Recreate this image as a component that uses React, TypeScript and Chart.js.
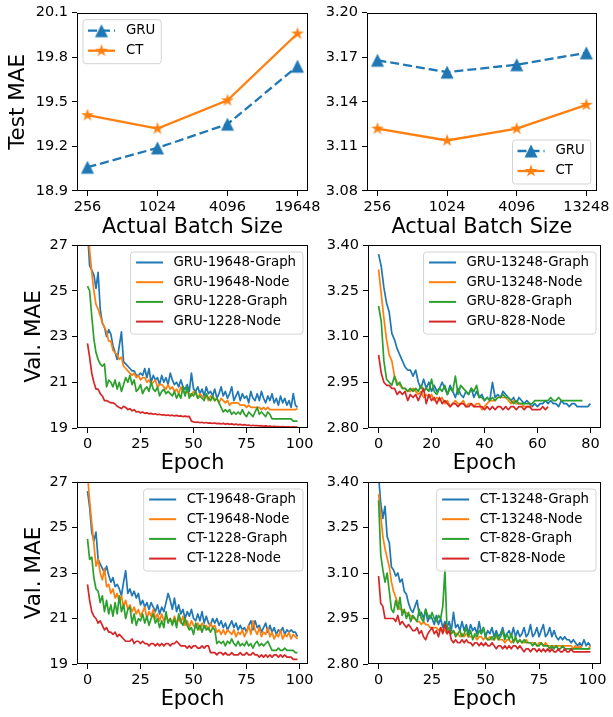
import React, { useEffect, useRef } from 'react';
import { Chart, registerables } from 'chart.js';
Chart.register(...registerables);

const W = 613;
const H = 717;
const FONT = '"DejaVu Sans", "Liberation Sans", sans-serif';
const BLUE = '#1f77b4';
const ORANGE = '#ff7f0e';
const GREEN = '#2ca02c';
const RED = '#d62728';

// ---------- top row: test MAE vs batch size ----------
const BATCH_LABELS_LEFT = ['256', '1024', '4096', '19648'];
const BATCH_LABELS_RIGHT = ['256', '1024', '4096', '13248'];
const GRU_TEST_LEFT = [19.06, 19.19, 19.35, 19.74];
const CT_TEST_LEFT = [19.41, 19.32, 19.51, 19.96];
const GRU_TEST_RIGHT = [3.168, 3.160, 3.165, 3.173];
const CT_TEST_RIGHT = [3.122, 3.114, 3.122, 3.138];
const Y_TICKS_TOP_LEFT = [18.9, 19.2, 19.5, 19.8, 20.1];
const Y_TICKS_TOP_RIGHT = [3.08, 3.11, 3.14, 3.17, 3.2];

// ---------- middle row: GRU validation curves ----------
const GRU_19648_GRAPH = [
  27.6, 26.1, 25.9, 25.7, 25.1, 25.8, 24.2, 23.6, 23.4, 23.0,
  23.3, 23.1, 22.6, 22.3, 22.0, 22.6, 23.2, 21.9, 21.8, 21.7,
  21.6, 21.5, 21.5, 21.3, 21.3, 21.4, 21.3, 21.6, 21.2, 21.6,
  21.0, 21.3, 21.1, 21.2, 20.9, 21.3, 21.0, 21.2, 20.9, 21.4,
  21.1, 20.9, 21.0, 20.8, 21.1, 20.8, 20.7, 20.9, 20.6, 21.4,
  20.7, 20.6, 20.8, 20.5, 20.7, 20.4, 20.8, 20.5, 20.6, 20.4,
  20.7, 20.3, 20.5, 20.8, 20.4, 20.6, 20.3, 20.5, 20.8, 20.2,
  20.4, 20.6, 20.2, 20.5, 20.3, 20.4, 20.1, 20.6, 20.3, 20.2,
  20.5, 20.2, 20.6, 20.3, 20.1, 20.4, 20.2, 20.5, 20.1, 20.3,
  20.0, 20.4, 20.1, 20.3, 20.0, 20.2, 19.9, 20.5, 20.0, 19.9,
];
const GRU_19648_NODE = [
  27.9, 26.8, 25.8, 25.0, 24.4, 24.2, 23.9, 23.6, 23.4, 23.2,
  22.8, 22.8, 22.4, 22.3, 22.2, 22.0, 22.1, 21.7, 21.6, 21.5,
  21.4, 21.3, 21.4, 21.2, 21.3, 21.1, 21.2, 21.2, 21.0, 21.1,
  20.9, 21.0, 21.1, 20.8, 20.9, 20.9, 20.8, 20.7, 20.9, 20.7,
  20.8, 20.6, 20.7, 20.5, 20.8, 20.6, 20.5, 20.6, 20.5, 20.4,
  20.6, 20.5, 20.3, 20.5, 20.4, 20.3, 20.4, 20.2, 20.4, 20.3,
  20.2, 20.3, 20.1, 20.3, 20.2, 20.1, 20.2, 20.0, 20.1, 20.1,
  20.1, 20.1, 20.0, 20.0, 20.0, 19.9, 20.0, 19.9, 19.9, 19.9,
  19.9, 19.9, 19.8, 19.9, 19.8, 19.9, 19.8, 19.8, 19.8, 19.8,
  19.8, 19.8, 19.8, 19.8, 19.8, 19.8, 19.8, 19.8, 19.8, 19.85,
];
const GRU_1228_GRAPH = [
  25.2, 25.0, 23.9, 22.9, 22.3, 22.0, 21.8, 21.7, 21.8, 20.8,
  21.1, 21.0, 20.8, 21.1, 20.7, 21.0, 20.6, 20.9, 21.2, 21.0,
  21.3, 20.9, 21.1, 20.6, 20.7, 20.9, 20.5, 20.7, 20.8, 20.6,
  21.0, 20.7, 20.6, 20.8, 20.4, 20.6, 20.7, 20.5, 20.6, 20.5,
  20.4, 20.6, 20.3, 20.5, 20.3, 20.8, 20.4, 20.8, 20.3, 20.5,
  20.4, 20.6, 20.3, 20.4, 20.3, 20.2, 20.5, 20.3, 20.2, 20.4,
  20.2, 20.3, 20.1, 19.9, 19.7, 19.8, 19.7, 19.8, 19.6, 19.7,
  19.6, 19.7, 19.6, 19.8, 19.6, 19.5, 19.7, 19.6, 19.5, 19.7,
  19.9, 19.6, 19.7, 19.6, 19.5, 19.7, 19.6, 19.4, 19.4, 19.4,
  19.4, 19.4, 19.4, 19.4, 19.4, 19.4, 19.4, 19.3, 19.3, 19.3,
];
const GRU_1228_NODE = [
  22.7, 22.1, 21.4, 21.0, 20.7, 20.7, 20.5, 20.4, 20.2, 20.2,
  20.15, 20.1, 20.1, 20.05, 19.95, 19.9, 19.85, 19.95, 19.9, 19.8,
  19.85, 19.75, 19.8, 19.7, 19.72, 19.66, 19.7, 19.64, 19.66, 19.62,
  19.64, 19.6, 19.62, 19.58, 19.6, 19.57, 19.58, 19.55, 19.57, 19.54,
  19.56, 19.53, 19.55, 19.52, 19.53, 19.5, 19.52, 19.5, 19.51, 19.3,
  19.27, 19.25, 19.26, 19.23, 19.25, 19.22, 19.24, 19.21, 19.22, 19.2,
  19.22, 19.19, 19.2, 19.18, 19.2, 19.17, 19.19, 19.16, 19.18, 19.15,
  19.17, 19.14, 19.16, 19.13, 19.15, 19.12, 19.13, 19.1, 19.12, 19.1,
  19.11, 19.09, 19.1, 19.08, 19.09, 19.07, 19.08, 19.06, 19.07, 19.06,
  19.06, 19.05, 19.06, 19.05, 19.05, 19.05, 19.04, 19.05, 19.04, 19.05,
];
const GRU_13248_GRAPH = [
  3.37, 3.33, 3.26, 3.21, 3.18, 3.11, 3.09, 3.06, 3.04, 3.02,
  3.00, 2.99, 2.99, 2.97, 2.99, 2.95, 2.93, 2.96, 2.93, 2.95,
  2.92, 2.94, 2.92, 2.93, 2.95, 2.93, 2.91, 2.94, 2.92, 2.90,
  2.93, 2.91, 2.90, 2.92, 2.91, 2.93, 2.90, 2.92, 2.90, 2.91,
  2.89, 2.90, 2.89, 2.95, 2.90, 2.91, 2.90, 2.92, 2.91, 2.90,
  2.89, 2.90, 2.88, 2.90, 2.89, 2.88, 2.89, 2.88, 2.87, 2.88,
  2.87, 2.88, 2.88, 2.89, 2.88, 2.89, 2.88, 2.88, 2.87, 2.89,
  2.88, 2.88, 2.87, 2.88, 2.88, 2.87, 2.87, 2.87, 2.87, 2.87,
  2.88,
];
const GRU_13248_NODE = [
  3.32, 3.24, 3.16, 3.09, 3.04, 3.02, 2.97, 2.95, 2.94, 2.93,
  2.93, 2.92, 2.92, 2.93, 2.92, 2.91, 2.92, 2.90, 2.91, 2.90,
  2.91, 2.89, 2.90, 2.89, 2.90, 2.88, 2.89, 2.87, 2.88, 2.89,
  2.88, 2.88, 2.89, 2.87, 2.88, 2.88, 2.87, 2.88, 2.88, 2.86,
  2.87, 2.88, 2.89, 2.89, 2.89, 2.90, 2.90, 2.90, 2.90, 2.89,
  2.88, 2.89, 2.88, 2.88, 2.88, 2.87, 2.87, 2.87, 2.87,
];
const GRU_828_GRAPH = [
  3.20, 3.15, 3.02, 2.96, 2.95, 2.94, 2.97, 2.94, 2.95, 2.93,
  2.93, 2.92, 2.93, 2.92, 2.93, 2.92, 2.94, 2.92, 2.93, 2.92,
  2.96, 2.92, 2.91, 2.93, 2.92, 2.94, 2.91, 2.93, 2.92, 2.97,
  2.91, 2.94, 2.93, 2.92, 2.91, 2.93, 2.92, 2.94, 2.90, 2.90,
  2.89, 2.90, 2.89, 2.90, 2.89, 2.90, 2.90, 2.91, 2.90, 2.90,
  2.89, 2.88, 2.89, 2.88, 2.88, 2.88, 2.88, 2.88, 2.88, 2.89,
  2.89, 2.89, 2.89, 2.89, 2.89, 2.90, 2.89, 2.89, 2.90, 2.89,
  2.89, 2.89, 2.89, 2.89, 2.89, 2.89, 2.89, 2.89,
];
const GRU_828_NODE = [
  3.04, 2.98, 2.95, 2.94, 2.94, 2.93, 2.93, 2.91, 2.92, 2.91,
  2.92, 2.89, 2.91, 2.90, 2.91, 2.89, 2.91, 2.93, 2.88, 2.91,
  2.89, 2.90, 2.88, 2.90, 2.88, 2.89, 2.88, 2.87, 2.88, 2.88,
  2.87, 2.88, 2.88, 2.87, 2.87, 2.88, 2.87, 2.87, 2.87, 2.87,
  2.86, 2.87, 2.86, 2.87, 2.86, 2.87, 2.87, 2.86, 2.87, 2.86,
  2.87, 2.87, 2.86, 2.87, 2.87, 2.86, 2.87, 2.87, 2.86, 2.86,
  2.86, 2.86, 2.87, 2.86, 2.87,
];

// ---------- bottom row: CT validation curves ----------
const CT_19648_GRAPH = [
  26.6, 25.9, 24.8, 24.4, 24.8, 23.6, 23.4, 23.2, 23.0, 23.3,
  22.9, 22.6, 22.8, 22.4, 22.5, 22.3, 22.0, 22.6, 23.1, 22.1,
  22.3, 22.0, 22.2, 21.9, 22.1, 21.6, 21.8, 21.5, 21.7, 21.4,
  21.7, 21.5, 21.3, 21.6, 21.2, 21.5, 21.3, 21.7, 22.1, 21.8,
  21.4, 21.9, 21.3, 21.6, 21.2, 21.4, 21.0, 21.3, 21.1, 21.4,
  21.0, 20.9, 21.2, 20.9, 21.3, 20.8, 21.1, 20.8, 20.7, 21.0,
  20.8, 21.0, 20.7, 20.9, 20.6, 20.8, 20.5, 20.7, 20.9, 20.6,
  20.8, 20.5, 20.7, 20.5, 20.6, 20.4, 20.7, 20.9, 20.5, 20.9,
  20.6, 20.7, 20.4, 20.6, 20.8, 20.4, 20.7, 20.4, 20.6, 20.3,
  20.5, 20.4, 20.6, 20.3, 20.5, 20.4, 20.5, 20.4, 20.4, 20.2,
];
const CT_19648_NODE = [
  27.3, 26.2, 25.2, 24.3, 23.3, 23.6, 23.0, 22.7, 23.2, 22.4,
  22.5, 22.1, 22.3, 21.9, 22.1, 21.7, 22.0, 21.5, 21.8, 21.4,
  21.6, 21.3, 21.5, 21.2, 21.4, 21.1, 21.3, 21.5, 21.0, 21.3,
  21.1, 21.4, 21.0, 21.2, 20.9, 21.2, 20.9, 21.1, 20.9, 21.0,
  20.8, 21.1, 20.8, 21.0, 20.8, 21.1, 20.7, 20.9, 20.6, 20.9,
  20.7, 20.6, 20.8, 20.5, 20.8, 20.6, 20.7, 20.5, 20.8, 20.6,
  20.7, 20.4, 20.5, 20.3, 20.5, 20.3, 20.5, 20.4, 20.3, 20.5,
  20.2, 20.4, 20.3, 20.5, 20.2, 20.4, 20.7, 20.3, 20.9, 20.5,
  20.3, 20.6, 20.2, 20.4, 20.3, 20.6, 20.2, 20.4, 20.1, 20.3,
  20.2, 20.5, 20.1, 20.3, 20.2, 20.4, 20.1, 20.3, 20.2, 20.1,
];
const CT_1228_GRAPH = [
  24.5, 23.6, 23.7, 22.8, 22.3, 22.2, 21.7, 22.0, 21.3, 21.8,
  21.2, 21.6, 21.1, 21.7, 21.2, 22.0, 21.3, 21.6, 21.0, 21.4,
  21.5, 20.8, 21.2, 20.7, 21.0, 20.9, 21.2, 20.8, 21.1, 20.7,
  21.0, 21.2, 20.8, 21.0, 20.6, 20.9, 20.6, 21.3, 20.8, 21.0,
  20.7, 21.0, 20.6, 21.2, 20.9, 20.7, 21.0, 20.7, 20.5, 20.6,
  20.3, 20.8, 20.5, 20.7, 20.4, 20.7, 20.5, 20.6, 20.4, 20.6,
  20.5, 19.9, 20.0, 19.9, 20.0, 19.8, 20.0, 19.9, 20.1, 19.9,
  19.8, 20.0, 19.8, 19.9, 19.8, 20.0, 19.8, 19.9, 19.7, 19.9,
  20.0, 19.8, 19.9, 19.8, 19.9, 20.0, 19.8, 19.6, 19.6, 19.6,
  19.7, 19.6, 19.6, 19.7, 19.6, 19.6, 19.6, 19.6, 19.5, 19.5,
];
const CT_1228_NODE = [
  22.5, 21.8, 21.3, 21.1, 21.0, 20.8, 20.9, 20.7, 20.5, 20.6,
  20.4, 20.4, 20.3, 20.4, 20.2, 20.3, 20.2, 20.1, 20.0, 20.0,
  20.0, 20.1, 19.9, 20.0, 20.0, 19.9, 20.0, 19.9, 19.9, 19.8,
  19.9, 19.9, 19.8, 19.9, 19.8, 19.9, 19.8, 19.9, 19.9, 19.8,
  19.9, 19.9, 20.0, 19.9, 19.8, 19.8, 19.8, 19.7, 19.8, 19.7,
  19.8, 19.8, 19.7, 19.7, 19.8, 19.7, 19.8, 19.8, 19.5, 19.5,
  19.5, 19.4, 19.5, 19.5, 19.4, 19.5, 19.4, 19.4, 19.5, 19.4,
  19.4, 19.4, 19.5, 19.4, 19.4, 19.5, 19.4, 19.4, 19.5, 19.4,
  19.4, 19.3, 19.4, 19.3, 19.4, 19.3, 19.4, 19.3, 19.4, 19.4,
  19.3, 19.4, 19.3, 19.4, 19.3, 19.3, 19.3, 19.2, 19.2, 19.2,
];
const CT_13248_GRAPH = [
  3.42, 3.33, 3.28, 3.32, 3.22, 3.20, 3.12, 3.11, 3.09, 3.10,
  3.07, 3.08, 3.04, 3.03, 3.00, 2.98, 2.97, 2.99, 3.01, 2.96,
  2.97, 2.95, 2.98, 2.94, 2.96, 2.95, 2.93, 2.96, 2.93, 2.95,
  2.92, 2.94, 2.92, 2.94, 2.91, 2.97, 2.92, 2.93, 2.91, 2.94,
  2.91, 2.93, 2.90, 2.93, 2.91, 2.92, 2.90, 2.94, 2.90, 2.92,
  2.89, 2.91, 2.90, 2.92, 2.89, 2.91, 2.89, 2.90, 2.92, 2.89,
  2.90, 2.91, 2.89, 2.92, 2.89, 2.91, 2.89, 2.90, 2.92, 2.89,
  2.90, 2.93, 2.89, 2.90, 2.92, 2.89, 2.91, 2.93, 2.89, 2.90,
  2.92, 2.89, 2.91, 2.89, 2.88, 2.89, 2.88, 2.89, 2.88, 2.88,
  2.87, 2.88, 2.87, 2.86, 2.87, 2.86, 2.88, 2.86, 2.87, 2.86,
];
const CT_13248_NODE = [
  3.36, 3.29, 3.22, 3.18, 3.15, 3.12, 3.07, 3.04, 3.02, 3.00,
  2.98, 2.98, 2.97, 2.97, 2.96, 2.96, 2.95, 2.95, 2.94, 2.94,
  2.93, 2.94, 2.93, 2.93, 2.92, 2.92, 2.92, 2.92, 2.91, 2.92,
  2.91, 2.91, 2.90, 2.91, 2.90, 2.91, 2.90, 2.90, 2.89, 2.90,
  2.89, 2.90, 2.89, 2.89, 2.89, 2.89, 2.88, 2.89, 2.89, 2.88,
  2.89, 2.88, 2.89, 2.88, 2.88, 2.89, 2.88, 2.88, 2.88, 2.87,
  2.88, 2.88, 2.87, 2.88, 2.88, 2.87, 2.88, 2.87, 2.87, 2.88,
  2.87, 2.87, 2.87, 2.87, 2.86, 2.87, 2.87, 2.86, 2.87, 2.86,
  2.86, 2.86, 2.86, 2.86, 2.86, 2.86, 2.86, 2.86, 2.86, 2.86,
  2.86, 2.85, 2.86, 2.85, 2.86, 2.85, 2.85, 2.85, 2.85, 2.86,
];
const CT_828_GRAPH = [
  3.34, 3.16, 3.11, 3.07, 3.10, 3.04, 2.98, 2.97, 3.01, 2.98,
  3.02, 2.96, 2.98, 2.95, 2.97, 2.94, 2.96, 2.95, 2.94, 2.98,
  2.95, 2.94, 2.98, 2.96, 2.95, 2.97, 2.95, 2.94, 2.96, 2.95,
  2.99, 3.11, 2.91, 2.92, 2.90, 2.91, 2.89, 2.90, 2.91, 2.89,
  2.90, 2.92, 2.89, 2.91, 2.88, 2.90, 2.89, 2.91, 2.90, 2.92,
  2.89, 2.88, 2.88, 2.89, 2.88, 2.90, 2.88, 2.89, 2.91, 2.88,
  2.90, 2.88, 2.90, 2.87, 2.89, 2.87, 2.88, 2.87, 2.88, 2.87,
  2.87, 2.87, 2.86, 2.87, 2.86, 2.86, 2.87, 2.86, 2.86, 2.86,
  2.85, 2.86, 2.85, 2.86, 2.85, 2.85, 2.86, 2.85, 2.85, 2.85,
  2.85, 2.85, 2.85, 2.85, 2.85, 2.85, 2.85, 2.85, 2.85, 2.85,
];
const CT_828_NODE = [
  3.09, 3.00, 2.99, 2.95, 2.95, 2.95, 2.95, 2.95, 2.94, 2.96,
  2.93, 2.94, 2.93, 2.92, 2.93, 2.92, 2.91, 2.91, 2.92, 2.90,
  2.91, 2.89, 2.88, 2.90, 2.91, 2.92, 2.90, 2.91, 2.89, 2.92,
  2.90, 2.93, 2.90, 2.91, 2.88, 2.87, 2.88, 2.87, 2.87, 2.88,
  2.87, 2.88, 2.87, 2.87, 2.86, 2.87, 2.87, 2.86, 2.87, 2.86,
  2.87, 2.86, 2.86, 2.87, 2.86, 2.85, 2.86, 2.86, 2.85, 2.86,
  2.85, 2.86, 2.85, 2.86, 2.86, 2.85, 2.86, 2.85, 2.84, 2.85,
  2.85, 2.84, 2.85, 2.85, 2.84, 2.85, 2.84, 2.85, 2.84, 2.85,
  2.84, 2.85, 2.84, 2.84, 2.85, 2.84, 2.84, 2.85, 2.84, 2.84,
  2.85, 2.84, 2.84, 2.84, 2.84, 2.84, 2.84, 2.84, 2.84, 2.84,
];

const EPOCH_TICKS_100 = [0, 25, 50, 75, 100];
const EPOCH_TICKS_80 = [0, 20, 40, 60, 80];
const Y_TICKS_MAE_BIG = [19, 21, 23, 25, 27];
const Y_TICKS_MAE_SMALL = [2.8, 2.95, 3.1, 3.25, 3.4];

// ---------- helpers ----------
function makeMarker(kind: string, color: string, size: number) {
  const c = document.createElement('canvas');
  const s = 18;
  c.width = s;
  c.height = s;
  const ctx = c.getContext('2d')!;
  ctx.fillStyle = color;
  ctx.beginPath();
  const cx = s / 2;
  const cy = s / 2;
  const r = size / 2;
  if (kind === 'tri') {
    ctx.moveTo(cx, cy - r);
    ctx.lineTo(cx + r, cy + r);
    ctx.lineTo(cx - r, cy + r);
  } else {
    for (let k = 0; k < 10; k++) {
      const rr = k % 2 === 0 ? r : r * 0.381966;
      const a = -Math.PI / 2 + (k * Math.PI) / 5;
      ctx.lineTo(cx + rr * Math.cos(a), cy + rr * Math.sin(a));
    }
  }
  ctx.closePath();
  ctx.fill();
  return c;
}

const toXY = (arr: number[]) => arr.map((y, i) => ({ x: i, y }));

const framePlugin = {
  id: 'frameBox',
  afterDatasetsDraw(chart: any) {
    const { ctx, chartArea: a } = chart;
    ctx.save();
    ctx.strokeStyle = '#000';
    ctx.lineWidth = 1;
    const l = Math.round(a.left) + 0.5;
    const t = Math.round(a.top) + 0.5;
    const r = Math.round(a.right) - 0.5;
    const b = Math.round(a.bottom) - 0.5;
    ctx.strokeRect(l, t, r - l, b - t);
    ctx.restore();
  },
};

function makeLegendPlugin(cfg: any) {
  return {
    id: 'boxLegend',
    afterDraw(chart: any) {
      const ctx = chart.ctx;
      const ca = chart.chartArea;
      ctx.save();
      ctx.font = `${cfg.fontSize}px ${FONT}`;
      const tw = Math.max(...cfg.items.map((it: any) => ctx.measureText(it.label).width));
      const bw = cfg.padL + cfg.handle + cfg.gap + tw + cfg.padR;
      const bh = cfg.padT + (cfg.items.length - 1) * cfg.rowH + cfg.padB;
      const x = cfg.corner.includes('r') ? ca.right - cfg.dx - bw : ca.left + cfg.dx;
      const y = cfg.corner.includes('b') ? ca.bottom - cfg.dy - bh : ca.top + cfg.dy;
      const rad = 3;
      ctx.beginPath();
      ctx.moveTo(x + rad, y);
      ctx.lineTo(x + bw - rad, y);
      ctx.arcTo(x + bw, y, x + bw, y + rad, rad);
      ctx.lineTo(x + bw, y + bh - rad);
      ctx.arcTo(x + bw, y + bh, x + bw - rad, y + bh, rad);
      ctx.lineTo(x + rad, y + bh);
      ctx.arcTo(x, y + bh, x, y + bh - rad, rad);
      ctx.lineTo(x, y + rad);
      ctx.arcTo(x, y, x + rad, y, rad);
      ctx.closePath();
      ctx.fillStyle = 'rgba(255,255,255,0.8)';
      ctx.fill();
      ctx.strokeStyle = '#d3d3d3';
      ctx.lineWidth = 1;
      ctx.stroke();
      cfg.items.forEach((it: any, i: number) => {
        const cy = y + cfg.padT + i * cfg.rowH;
        const x0 = x + cfg.padL;
        const x1 = x0 + cfg.handle;
        ctx.strokeStyle = it.color;
        ctx.lineWidth = it.lw;
        ctx.setLineDash(it.dash || []);
        ctx.beginPath();
        ctx.moveTo(x0, cy);
        ctx.lineTo(x1, cy);
        ctx.stroke();
        ctx.setLineDash([]);
        if (it.marker) {
          ctx.drawImage(it.marker, (x0 + x1) / 2 - it.marker.width / 2, cy - it.marker.height / 2);
        }
        ctx.fillStyle = '#000';
        ctx.textBaseline = 'middle';
        ctx.textAlign = 'left';
        ctx.fillText(it.label, x1 + cfg.gap, cy);
      });
      ctx.restore();
    },
  };
}

type Panel = {
  plot: number[];
  yW: number;
  xH: number;
  xMin: number;
  xMax: number;
  xTicks: number[];
  xFmt: (v: number) => string;
  yMin: number;
  yMax: number;
  yTicks: number[];
  yFmt: (v: number) => string;
  xTitle: string;
  yTitle?: string;
  build: () => { datasets: any[]; legend: any };
};

function lineSet(arr: number[], color: string, order: number) {
  return {
    data: toXY(arr),
    borderColor: color,
    backgroundColor: color,
    borderWidth: 1.7,
    pointRadius: 0,
    tension: 0,
    borderJoinStyle: 'round',
    clip: 0,
    order,
  };
}

function curveLegend(labels: string[], corner: string) {
  return {
    corner,
    dx: 5,
    dy: 7,
    fontSize: 13.3,
    rowH: 19.7,
    padT: 10.5,
    padB: 12.5,
    padL: 5.5,
    padR: 7,
    handle: 27,
    gap: 10.5,
    items: labels.map((l, i) => ({ label: l, color: [BLUE, ORANGE, GREEN, RED][i], lw: 2 })),
  };
}

function curvePanel(plot: number[], yW: number, arrays: number[][], labels: string[], big: boolean, epochs80: boolean, yTitle?: string): Panel {
  return {
    plot,
    yW,
    xH: 48.5,
    xMin: epochs80 ? -4 : -4.95,
    xMax: epochs80 ? 84 : 103.95,
    xTicks: epochs80 ? EPOCH_TICKS_80 : EPOCH_TICKS_100,
    xFmt: (v) => String(v),
    yMin: big ? 19 : 2.8,
    yMax: big ? 27 : 3.4,
    yTicks: big ? Y_TICKS_MAE_BIG : Y_TICKS_MAE_SMALL,
    yFmt: (v) => (big ? String(v) : v.toFixed(2)),
    xTitle: 'Epoch',
    yTitle,
    build: () => ({
      datasets: arrays.map((a, i) => lineSet(a, [BLUE, ORANGE, GREEN, RED][i], arrays.length - 1 - i)),
      legend: curveLegend(labels, 'tr'),
    }),
  };
}

function batchPanel(plot: number[], yW: number, labels: string[], gru: number[], ct: number[], yMin: number, yMax: number, yTicks: number[], digits: number, corner: string, yTitle?: string): Panel {
  return {
    plot,
    yW,
    xH: 49.5,
    xMin: -0.15,
    xMax: 3.15,
    xTicks: [0, 1, 2, 3],
    xFmt: (v) => labels[Math.round(v)],
    yMin,
    yMax,
    yTicks,
    yFmt: (v) => v.toFixed(digits),
    xTitle: 'Actual Batch Size',
    yTitle,
    build: () => {
      const tri = makeMarker('tri', BLUE, 13);
      const star = makeMarker('star', ORANGE, 13.5);
      return {
        datasets: [
          { data: toXY(gru), borderColor: BLUE, backgroundColor: BLUE, borderWidth: 2.3, borderDash: [9, 4], pointStyle: tri, pointRadius: 7, tension: 0, order: 1 },
          { data: toXY(ct), borderColor: ORANGE, backgroundColor: ORANGE, borderWidth: 2.3, pointStyle: star, pointRadius: 7, tension: 0, order: 0 },
        ],
        legend: {
          corner,
          dx: 6,
          dy: 7,
          fontSize: 13.3,
          rowH: 20,
          padT: 11,
          padB: 13,
          padL: 5,
          padR: 6,
          handle: 27,
          gap: 11,
          items: [
            { label: 'GRU', color: BLUE, lw: 2.3, dash: [9, 4], marker: tri },
            { label: 'CT', color: ORANGE, lw: 2.3, marker: star },
          ],
        },
      };
    },
  };
}

const PANELS: Panel[] = [
  batchPanel([77, 8, 308, 191], 71, BATCH_LABELS_LEFT, GRU_TEST_LEFT, CT_TEST_LEFT, 18.9, 20.1, Y_TICKS_TOP_LEFT, 1, 'tl', 'Test MAE'),
  batchPanel([367, 8, 600, 191], 50, BATCH_LABELS_RIGHT, GRU_TEST_RIGHT, CT_TEST_RIGHT, 3.08, 3.2, Y_TICKS_TOP_RIGHT, 2, 'br'),
  curvePanel([77, 245, 308, 428], 55, [GRU_19648_GRAPH, GRU_19648_NODE, GRU_1228_GRAPH, GRU_1228_NODE],
    ['GRU-19648-Graph', 'GRU-19648-Node', 'GRU-1228-Graph', 'GRU-1228-Node'], true, false, 'Val. MAE'),
  curvePanel([368, 245, 601, 428], 50, [GRU_13248_GRAPH, GRU_13248_NODE, GRU_828_GRAPH, GRU_828_NODE],
    ['GRU-13248-Graph', 'GRU-13248-Node', 'GRU-828-Graph', 'GRU-828-Node'], false, true),
  curvePanel([77, 482, 308, 664], 55, [CT_19648_GRAPH, CT_19648_NODE, CT_1228_GRAPH, CT_1228_NODE],
    ['CT-19648-Graph', 'CT-19648-Node', 'CT-1228-Graph', 'CT-1228-Node'], true, false, 'Val. MAE'),
  curvePanel([368, 482, 601, 664], 50, [CT_13248_GRAPH, CT_13248_NODE, CT_828_GRAPH, CT_828_NODE],
    ['CT-13248-Graph', 'CT-13248-Node', 'CT-828-Graph', 'CT-828-Node'], false, false),
];

function buildConfig(p: Panel): any {
  const [L, T, R, B] = p.plot;
  const built = p.build();
  const tickFont = { family: FONT, size: 14.5 };
  const xTitleFont = { family: FONT, size: 20.8 };
  const yTitleFont = { family: FONT, size: 21.5 };
  const grid = { drawOnChartArea: false, drawTicks: true, tickLength: 5, tickColor: '#000', tickWidth: 1, color: '#000' };
  return {
    type: 'line',
    data: { datasets: built.datasets },
    options: {
      animation: false,
      responsive: false,
      devicePixelRatio: 1,
      events: [],
      layout: { padding: { left: L - p.yW, top: T, right: W - R, bottom: H - B - p.xH } },
      plugins: { legend: { display: false }, tooltip: { enabled: false } },
      scales: {
        x: {
          type: 'linear',
          min: p.xMin,
          max: p.xMax,
          afterBuildTicks: (s: any) => {
            s.ticks = p.xTicks.map((v) => ({ value: v }));
          },
          afterFit: (s: any) => {
            s.height = p.xH;
          },
          ticks: { callback: (v: number) => p.xFmt(v), color: '#000', font: tickFont, padding: 3, maxRotation: 0, autoSkip: false },
          grid,
          border: { display: false },
          title: { display: true, text: p.xTitle, color: '#000', font: xTitleFont, padding: 0 },
        },
        y: {
          type: 'linear',
          min: p.yMin,
          max: p.yMax,
          afterBuildTicks: (s: any) => {
            s.ticks = p.yTicks.map((v) => ({ value: v }));
          },
          afterFit: (s: any) => {
            s.width = p.yW;
          },
          ticks: { callback: (v: number) => p.yFmt(v), color: '#000', font: tickFont, padding: 4, autoSkip: false },
          grid,
          border: { display: false },
          title: { display: !!p.yTitle, text: p.yTitle || '', color: '#000', font: yTitleFont, padding: 0 },
        },
      },
    },
    plugins: [framePlugin, makeLegendPlugin(built.legend)],
  };
}

function PanelChart({ panel }: { panel: Panel }) {
  const ref = useRef<HTMLCanvasElement | null>(null);
  useEffect(() => {
    const chart = new Chart(ref.current as HTMLCanvasElement, buildConfig(panel));
    return () => chart.destroy();
  }, [panel]);
  return (
    <canvas
      ref={ref}
      width={W}
      height={H}
      style={{ position: 'absolute', left: 0, top: 0, width: W, height: H, display: 'block' }}
    />
  );
}

export default function App() {
  return (
    <div style={{ position: 'absolute', left: 0, top: 0, width: W, height: H, background: '#fff', overflow: 'hidden' }}>
      {PANELS.map((p, i) => (
        <PanelChart key={i} panel={p} />
      ))}
    </div>
  );
}
